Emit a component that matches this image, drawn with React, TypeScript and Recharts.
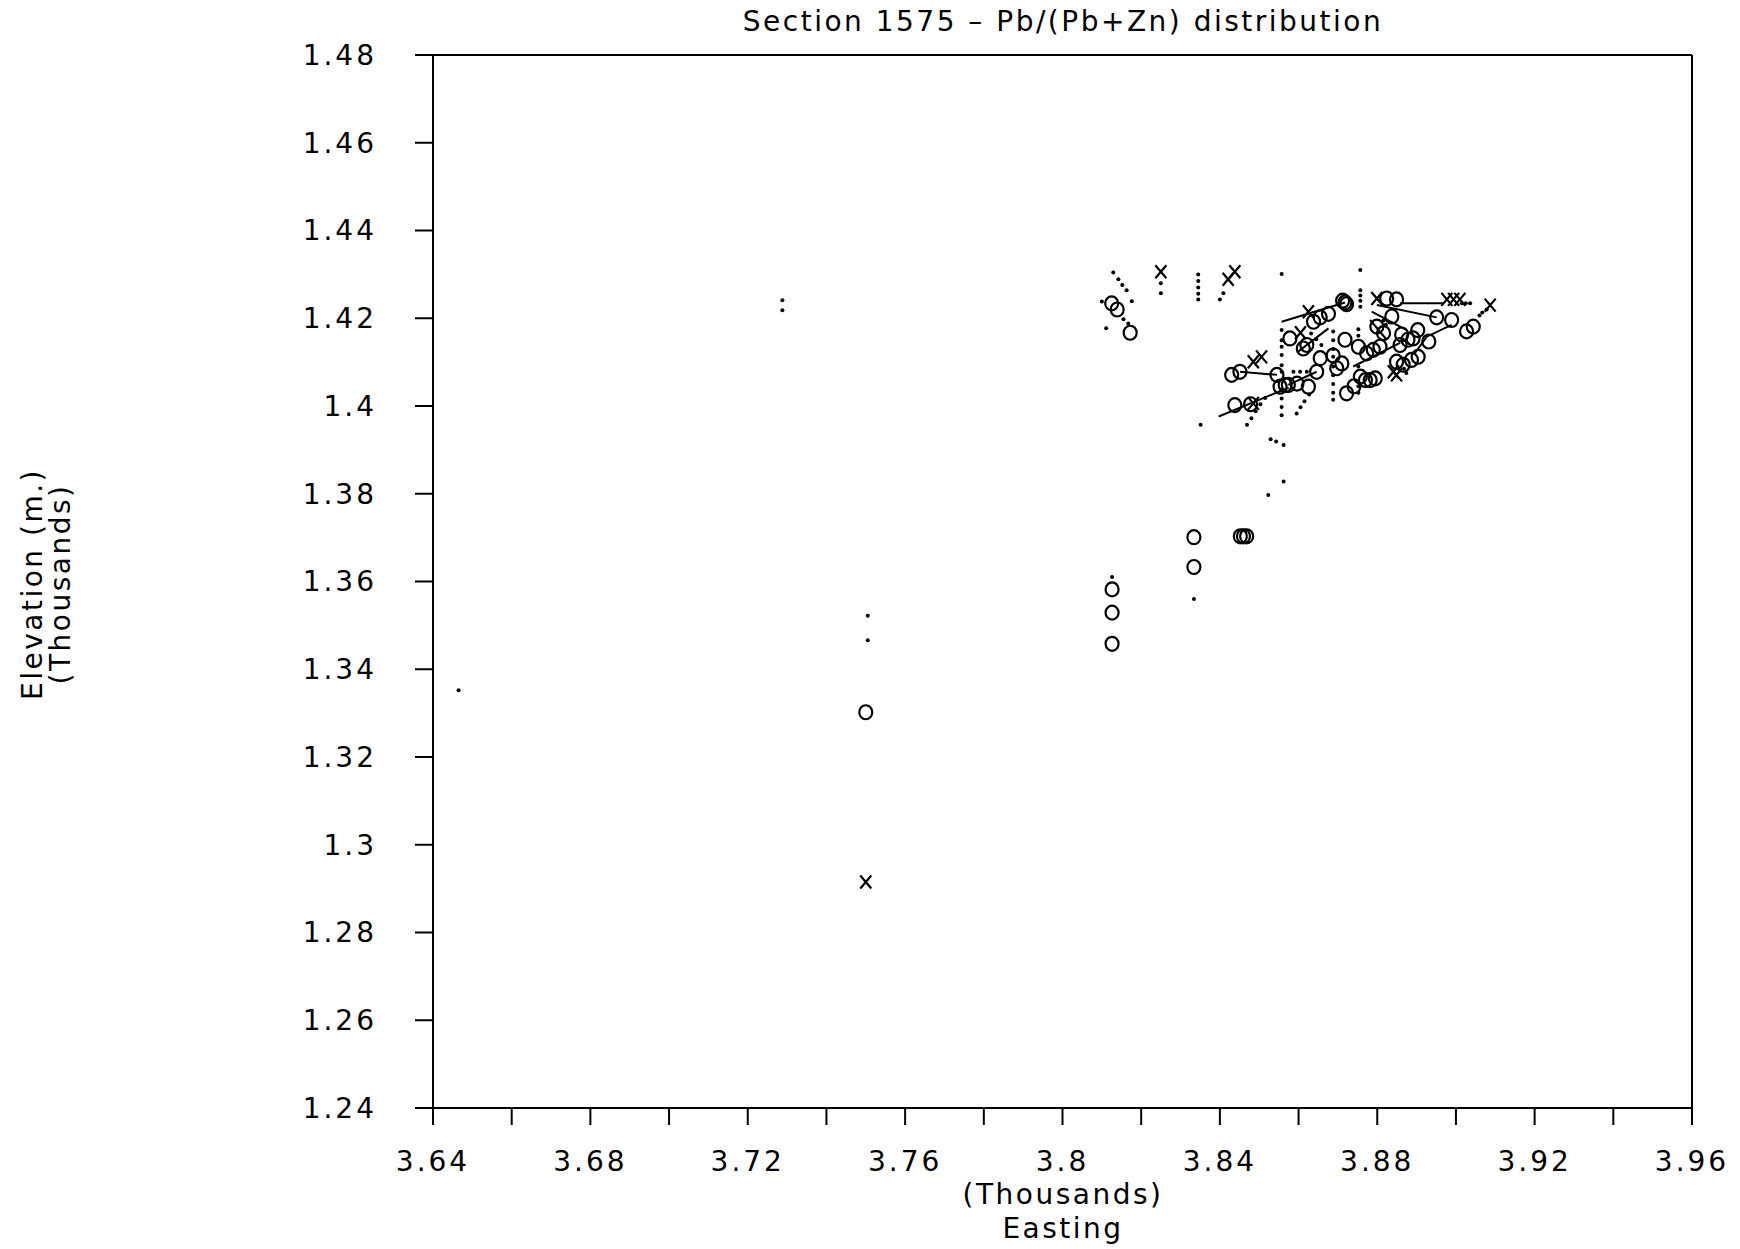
import { ScatterChart, Scatter, XAxis, YAxis, ReferenceLine } from "recharts"

type Pt = { x: number; y: number }

// drill hole samples, Easting / Elevation in thousands of metres
const circlePts: Pt[] = [
    { x: 3.75, y: 1.3302 },
    { x: 3.8126, y: 1.3582 }, { x: 3.8126, y: 1.3529 }, { x: 3.8126, y: 1.3458 },
    { x: 3.8334, y: 1.3701 }, { x: 3.8334, y: 1.3633 },
    { x: 3.8452, y: 1.3703 }, { x: 3.846, y: 1.3703 }, { x: 3.8468, y: 1.3703 },
    { x: 3.8125, y: 1.4234 }, { x: 3.8139, y: 1.422 }, { x: 3.8172, y: 1.4167 },
    { x: 3.843, y: 1.4071 }, { x: 3.8451, y: 1.4078 }, { x: 3.8438, y: 1.4002 }, { x: 3.8478, y: 1.4004 },
    { x: 3.8545, y: 1.4071 }, { x: 3.8553, y: 1.4044 }, { x: 3.8566, y: 1.4048 }, { x: 3.8574, y: 1.4048 },
    { x: 3.8578, y: 1.4154 }, { x: 3.8612, y: 1.4131 }, { x: 3.8621, y: 1.4139 }, { x: 3.8625, y: 1.4044 },
    { x: 3.8638, y: 1.4192 }, { x: 3.8655, y: 1.4202 }, { x: 3.8676, y: 1.421 }, { x: 3.8646, y: 1.4078 },
    { x: 3.8655, y: 1.4109 }, { x: 3.8697, y: 1.4086 }, { x: 3.871, y: 1.4097 }, { x: 3.8718, y: 1.4151 },
    { x: 3.8722, y: 1.4029 }, { x: 3.8752, y: 1.4135 }, { x: 3.8757, y: 1.4067 }, { x: 3.877, y: 1.4059 },
    { x: 3.8782, y: 1.4059 }, { x: 3.8795, y: 1.4063 }, { x: 3.8773, y: 1.412 }, { x: 3.879, y: 1.4128 },
    { x: 3.8807, y: 1.4135 }, { x: 3.8712, y: 1.424 }, { x: 3.8718, y: 1.4236 }, { x: 3.8722, y: 1.4232 },
    { x: 3.8824, y: 1.4245 }, { x: 3.8849, y: 1.4243 }, { x: 3.8951, y: 1.4202 }, { x: 3.8989, y: 1.4196 },
    { x: 3.9027, y: 1.417 }, { x: 3.9044, y: 1.4181 }, { x: 3.8837, y: 1.4204 }, { x: 3.8903, y: 1.4173 },
    { x: 3.8878, y: 1.4151 }, { x: 3.8891, y: 1.4154 }, { x: 3.8858, y: 1.4139 }, { x: 3.8931, y: 1.4147 },
    { x: 3.8799, y: 1.4181 }, { x: 3.8816, y: 1.4166 }, { x: 3.8849, y: 1.4101 }, { x: 3.8866, y: 1.4094 },
    { x: 3.8887, y: 1.4105 }, { x: 3.8904, y: 1.4112 },
    { x: 3.8596, y: 1.4051 }, { x: 3.8688, y: 1.4115 }, { x: 3.8741, y: 1.4045 }, { x: 3.8862, y: 1.4163 },
]

const crossPts: Pt[] = [
    { x: 3.75, y: 1.2915 },
    { x: 3.825, y: 1.4306 }, { x: 3.8421, y: 1.4289 }, { x: 3.8438, y: 1.4306 },
    { x: 3.8506, y: 1.4112 }, { x: 3.8485, y: 1.4101 }, { x: 3.8485, y: 1.4006 },
    { x: 3.8625, y: 1.4215 }, { x: 3.8605, y: 1.4167 }, { x: 3.8799, y: 1.4245 },
    { x: 3.8977, y: 1.4243 }, { x: 3.8994, y: 1.4243 }, { x: 3.901, y: 1.4243 },
    { x: 3.9087, y: 1.423 }, { x: 3.8841, y: 1.4078 }, { x: 3.8849, y: 1.4071 },
]

const dotPts: Pt[] = [
    { x: 3.6465, y: 1.3352 }, { x: 3.7288, y: 1.4241 }, { x: 3.7288, y: 1.4218 },
    { x: 3.7505, y: 1.3522 }, { x: 3.7505, y: 1.3466 },
    { x: 3.8126, y: 1.361 }, { x: 3.8334, y: 1.356 },
    { x: 3.8351, y: 1.3957 }, { x: 3.8523, y: 1.3797 }, { x: 3.8562, y: 1.3828 },
    { x: 3.8529, y: 1.3924 }, { x: 3.8543, y: 1.3919 }, { x: 3.8562, y: 1.3911 },
    { x: 3.8129, y: 1.4304 }, { x: 3.8142, y: 1.4289 }, { x: 3.8152, y: 1.4276 }, { x: 3.8163, y: 1.4264 },
    { x: 3.8176, y: 1.4239 }, { x: 3.81, y: 1.4238 }, { x: 3.8111, y: 1.4177 }, { x: 3.8155, y: 1.4198 },
    { x: 3.8167, y: 1.4188 },
    { x: 3.825, y: 1.428 }, { x: 3.825, y: 1.4257 },
    { x: 3.8345, y: 1.43 }, { x: 3.8345, y: 1.4285 }, { x: 3.8345, y: 1.427 }, { x: 3.8345, y: 1.4256 },
    { x: 3.8345, y: 1.4243 },
    { x: 3.8409, y: 1.4257 }, { x: 3.84, y: 1.4243 },
    { x: 3.8557, y: 1.4301 }, { x: 3.8757, y: 1.431 },
    { x: 3.8557, y: 1.4173 }, { x: 3.8557, y: 1.415 }, { x: 3.8557, y: 1.4135 }, { x: 3.8557, y: 1.4116 },
    { x: 3.8557, y: 1.4093 }, { x: 3.8557, y: 1.4078 }, { x: 3.8557, y: 1.4036 }, { x: 3.8557, y: 1.4017 },
    { x: 3.8557, y: 1.3998 }, { x: 3.8557, y: 1.3979 },
    { x: 3.8688, y: 1.417 }, { x: 3.8688, y: 1.415 }, { x: 3.8688, y: 1.413 }, { x: 3.8688, y: 1.4112 },
    { x: 3.8688, y: 1.409 }, { x: 3.8688, y: 1.407 }, { x: 3.8688, y: 1.405 }, { x: 3.8688, y: 1.403 },
    { x: 3.8688, y: 1.4014 },
    { x: 3.8757, y: 1.4264 }, { x: 3.8757, y: 1.4252 }, { x: 3.8757, y: 1.424 }, { x: 3.8757, y: 1.4226 },
    { x: 3.8752, y: 1.4175 }, { x: 3.8752, y: 1.416 }, { x: 3.8752, y: 1.409 }, { x: 3.8752, y: 1.4045 },
    { x: 3.8752, y: 1.403 },
    { x: 3.906, y: 1.4206 }, { x: 3.9067, y: 1.4213 }, { x: 3.9078, y: 1.422 },
    { x: 3.9015, y: 1.4234 }, { x: 3.9025, y: 1.4234 }, { x: 3.9036, y: 1.4234 },
    { x: 3.8469, y: 1.3957 }, { x: 3.848, y: 1.3972 }, { x: 3.8491, y: 1.3988 }, { x: 3.8503, y: 1.4004 },
    { x: 3.8515, y: 1.4018 },
    { x: 3.8595, y: 1.3983 }, { x: 3.8605, y: 1.3997 }, { x: 3.8615, y: 1.4011 }, { x: 3.8627, y: 1.4026 },
    { x: 3.8587, y: 1.4078 }, { x: 3.8604, y: 1.4078 }, { x: 3.8621, y: 1.4078 },
    { x: 3.8632, y: 1.4165 }, { x: 3.8645, y: 1.4152 }, { x: 3.8658, y: 1.4139 },
    { x: 3.8816, y: 1.4195 }, { x: 3.8822, y: 1.4185 }, { x: 3.8868, y: 1.4085 }, { x: 3.8874, y: 1.4075 },
]

// solid traces joining samples
const traces: Pt[][] = [
    [{ x: 3.8557, y: 1.4192 }, { x: 3.8718, y: 1.4236 }],
    [{ x: 3.8397, y: 1.3976 }, { x: 3.8575, y: 1.4042 }],
    [{ x: 3.8451, y: 1.4078 }, { x: 3.8545, y: 1.4071 }],
    [{ x: 3.8858, y: 1.4234 }, { x: 3.8968, y: 1.4234 }],
    [{ x: 3.8799, y: 1.423 }, { x: 3.8951, y: 1.4202 }],
    [{ x: 3.8989, y: 1.4185 }, { x: 3.8926, y: 1.4158 }, { x: 3.8895, y: 1.412 }],
    [{ x: 3.8786, y: 1.4215 }, { x: 3.8875, y: 1.4173 }],
    [{ x: 3.8782, y: 1.4196 }, { x: 3.8824, y: 1.4151 }],
    [{ x: 3.8739, y: 1.409 }, { x: 3.8858, y: 1.4144 }],
    [{ x: 3.8599, y: 1.4124 }, { x: 3.8676, y: 1.4177 }],
    [{ x: 3.8574, y: 1.4048 }, { x: 3.8646, y: 1.4078 }],
]

const xTicks = [3.64, 3.66, 3.68, 3.7, 3.72, 3.74, 3.76, 3.78, 3.8, 3.82, 3.84, 3.86, 3.88, 3.9, 3.92, 3.94, 3.96]
const yTicks = [1.24, 1.26, 1.28, 1.3, 1.32, 1.34, 1.36, 1.38, 1.4, 1.42, 1.44, 1.46, 1.48]

const FONT = "'DejaVu Sans', sans-serif"
const fmt = (v: number) => String(Number(v.toFixed(2)))

const Circle = (p: any) => (
    <ellipse cx={p.cx} cy={p.cy} rx={6.5} ry={7} fill="none" stroke="#000" strokeWidth={2.2} />
)
const Cross = (p: any) => (
    <g stroke="#000" strokeWidth={2.2}>
        <line x1={p.cx - 5.5} y1={p.cy - 6.5} x2={p.cx + 5.5} y2={p.cy + 6.5} />
        <line x1={p.cx - 5.5} y1={p.cy + 6.5} x2={p.cx + 5.5} y2={p.cy - 6.5} />
    </g>
)
const Dot = (p: any) => <circle cx={p.cx} cy={p.cy} r={2} fill="#000" />
const NoShape = () => <g />

const txt: React.CSSProperties = {
    position: "absolute",
    fontFamily: FONT,
    fontSize: 28,
    letterSpacing: 2.5,
    color: "#000",
    whiteSpace: "nowrap",
    lineHeight: 1,
}

export default function App() {
    return (
        <div style={{ position: "absolute", left: 0, top: 0, width: 1740, height: 1249, background: "#fff" }}>
            <ScatterChart width={1740} height={1249} margin={{ top: 55, right: 48, bottom: 81, left: 313 }}>
                <XAxis
                    type="number"
                    dataKey="x"
                    domain={[3.64, 3.96]}
                    ticks={xTicks}
                    interval={0}
                    height={60}
                    allowDataOverflow
                    tickSize={17}
                    tickMargin={26}
                    tickFormatter={(v: number, i: number) => (i % 2 === 0 ? fmt(v) : "")}
                    axisLine={{ stroke: "#000", strokeWidth: 2 }}
                    tickLine={{ stroke: "#000", strokeWidth: 2 }}
                    tick={{ fill: "#000", fontSize: 28, fontFamily: FONT, letterSpacing: 3 }}
                />
                <YAxis
                    type="number"
                    dataKey="y"
                    domain={[1.24, 1.48]}
                    ticks={yTicks}
                    interval={0}
                    width={120}
                    allowDataOverflow
                    tickSize={18}
                    tickMargin={38}
                    tickFormatter={fmt}
                    axisLine={{ stroke: "#000", strokeWidth: 2 }}
                    tickLine={{ stroke: "#000", strokeWidth: 2 }}
                    tick={{ fill: "#000", fontSize: 28, fontFamily: FONT, letterSpacing: 3 }}
                />
                <ReferenceLine y={1.48} stroke="#000" strokeWidth={2} />
                <ReferenceLine x={3.96} stroke="#000" strokeWidth={2} />
                {traces.map((t, i) => (
                    <Scatter
                        key={"t" + i}
                        data={t}
                        line={{ stroke: "#000", strokeWidth: 2 }}
                        shape={NoShape}
                        isAnimationActive={false}
                    />
                ))}
                <Scatter data={dotPts} shape={Dot} isAnimationActive={false} />
                <Scatter data={circlePts} shape={Circle} isAnimationActive={false} />
                <Scatter data={crossPts} shape={Cross} isAnimationActive={false} />
            </ScatterChart>
            <div style={{ ...txt, left: 1063, top: 8, transform: "translateX(-50%)" }}>
                Section 1575 – Pb/(Pb+Zn) distribution
            </div>
            <div style={{ ...txt, left: 1063, top: 1181, transform: "translateX(-50%)" }}>(Thousands)</div>
            <div style={{ ...txt, left: 1063, top: 1215, transform: "translateX(-50%)" }}>Easting</div>
            <div style={{ ...txt, left: 33, top: 584, transform: "translate(-50%, -50%) rotate(-90deg)" }}>
                Elevation (m.)
            </div>
            <div style={{ ...txt, left: 61, top: 584, transform: "translate(-50%, -50%) rotate(-90deg)" }}>
                (Thousands)
            </div>
        </div>
    )
}
